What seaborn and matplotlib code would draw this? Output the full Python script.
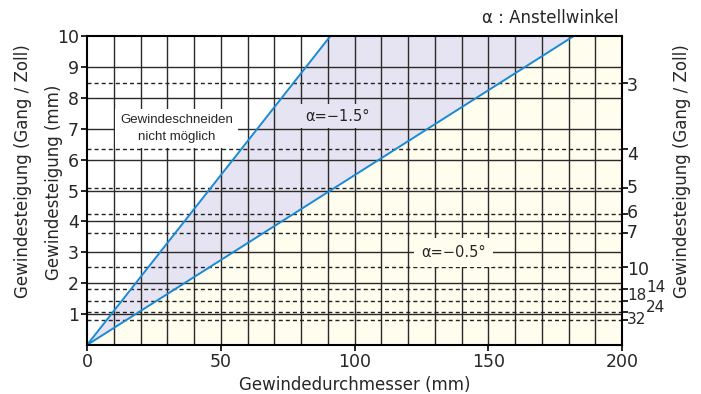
import numpy as np
import pandas as pd
import matplotlib
matplotlib.use("Agg")
import matplotlib.pyplot as plt
import matplotlib.transforms as mtransforms
import seaborn as sns

# ---- data ----
steep_x = [0, 91]      # alpha = -1.5 deg line (diameter mm)
steep_y = [0, 10]      # pitch mm
gentle_x = [0, 182]    # alpha = -0.5 deg line
gentle_y = [0, 10]
tpi_values = [3, 4, 5, 6, 7, 10, 14, 18, 24, 32]   # threads per inch
tpi_labels = ["3", "4", "5", "6", "7", "10", "14", "18", "24", "32"]
x_ticks = [0, 50, 100, 150, 200]
y_ticks = [1, 2, 3, 4, 5, 6, 7, 8, 9, 10]

sns.set_theme(style="white")
plt.rcParams["font.family"] = ["DejaVu Sans"]

fig = plt.figure(figsize=(7.01, 3.94), dpi=100)
ax = fig.add_axes([87/701, 1-345/394, (622-87)/701, (345-36)/394])
ax.set_xlim(0, 200)
ax.set_ylim(0, 10)

lav = "#E6E4F2"
cream = "#FFFDEE"
blue = "#1A8AD4"

# fills
xf = np.array(sorted(set([0, steep_x[1], gentle_x[1], 200])), dtype=float)
upper = np.interp(xf, steep_x, steep_y)
lower = np.interp(xf, gentle_x, gentle_y)
ax.fill_between(xf, lower, upper, color=lav, lw=0, zorder=0)
ax.fill_between(xf, 0, lower, color=cream, lw=0, zorder=0)

# grid
for xv in range(10, 200, 10):
    ax.axvline(xv, color="#2a2a2a", lw=1.0, zorder=1)
for yv in range(1, 10):
    ax.axhline(yv, color="#2a2a2a", lw=1.0, zorder=1)
for t in tpi_values:
    ax.axhline(25.4 / t, color="#222222", lw=1.0, ls=(0, (2.9, 2.2)), zorder=1)

# lines
df = pd.concat([
    pd.DataFrame({"d": steep_x, "p": steep_y, "a": "-1.5"}),
    pd.DataFrame({"d": gentle_x, "p": gentle_y, "a": "-0.5"}),
])
sns.lineplot(data=df, x="d", y="p", hue="a", palette=[blue, blue],
             legend=False, lw=1.4, ax=ax, zorder=3)

# annotations
ax.text(33.5, 7.0, "Gewindeschneiden\nnicht möglich", ha="center", va="center",
        fontsize=9.5, family=["Liberation Sans", "DejaVu Sans"],
        linespacing=1.55,
        bbox=dict(boxstyle="square,pad=0.4", fc="white", ec="none"), zorder=4)
ax.text(93.5, 7.4, "α=−1.5°", ha="center", va="center", fontsize=10.5,
        bbox=dict(boxstyle="square,pad=0.3", fc=lav, ec="none"), zorder=4)
ax.text(137, 3.0, "α=−0.5°", ha="center", va="center", fontsize=10.5,
        bbox=dict(boxstyle="square,pad=0.5", fc=cream, ec="none"), zorder=4)

# spines / ticks
for s in ax.spines.values():
    s.set_color("black")
    s.set_linewidth(1.5)
    s.set_zorder(5)
ax.set_xticks(x_ticks)
ax.set_yticks(y_ticks)
ax.tick_params(axis="both", which="both", direction="out", length=4, width=1.2,
               color="black", labelsize=12.5, pad=2, left=True, bottom=True)
ax.set_xlabel("Gewindedurchmesser (mm)", fontsize=12, labelpad=3)
ax.set_ylabel("Gewindesteigung (mm)", fontsize=12)
ax.yaxis.set_label_coords((63 - 87) / 535, (345 - 182) / 309)

# right axis (threads per inch)
ax2 = ax.twinx()
ax2.set_ylim(0, 10)
ax2.set_yticks([25.4 / t for t in tpi_values])
ax2.set_yticklabels([])
ax2.tick_params(axis="y", direction="out", length=4, width=1.2, color="black", right=True)
for s in ax2.spines.values():
    s.set_visible(False)
trans = mtransforms.blended_transform_factory(ax.transAxes, ax.transData)
label_pos = {"3": (1.009, -0.1, 12.5), "4": (1.009, -0.2, 12.5), "5": (1.009, 0.0, 12.5),
             "6": (1.009, 0.04, 12.5), "7": (1.009, 0.0, 12.5), "10": (1.009, -0.1, 12.5),
             "14": (1.045, 0.06, 11), "18": (1.009, 0.18, 11), "24": (1.045, 0.14, 11),
             "32": (1.009, 0.03, 11)}
for t, lab in zip(tpi_values, tpi_labels):
    y = 25.4 / t
    xo, dy, fs = label_pos[lab]
    ax.text(xo, y + dy, lab, transform=trans, ha="left", va="center",
            fontsize=fs, clip_on=False)

fig.text(682/701, 1 - 171/394, "Gewindesteigung (Gang / Zoll)", rotation=90, ha="center",
         va="center", fontsize=12)
fig.text(23/701, 1 - 171/394, "Gewindesteigung (Gang / Zoll)", rotation=90, ha="center",
         va="center", fontsize=12)
fig.text(618/701, 1-18/394, "α : Anstellwinkel", ha="right", va="center", fontsize=12)

fig.savefig("out.png", dpi=100)
